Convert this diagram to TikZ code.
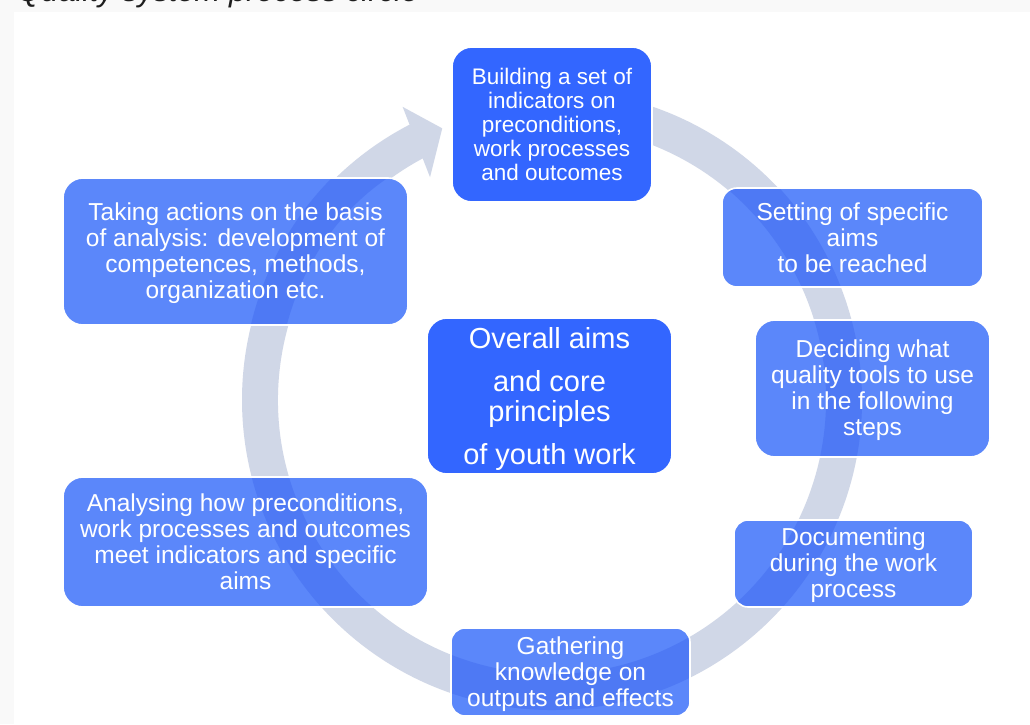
\documentclass[tikz,border=0pt]{standalone}
\usepackage{fontspec}
\setmainfont{Liberation Sans}
\usetikzlibrary{calc}

\definecolor{pagegray}{HTML}{F9F9F9}
\definecolor{ringc}{HTML}{D0D7E7}
\definecolor{stepc}{HTML}{5B87FA}
\definecolor{corec}{HTML}{3366FF}
\definecolor{ringdeep}{HTML}{4E79F4}
\definecolor{titlec}{HTML}{1E1E1E}

% annulus of the process circle (tail hidden under the first step)
\newcommand\qringpath{($(rc)+(96:310pt)$) arc[start angle=96,end angle=-243,radius=310pt]
  -- ($(rc)+(117:274pt)$) arc[start angle=-243,end angle=96,radius=274pt] -- cycle}
% invisible strut that lowers a node's text a little
\newcommand\qlift[1]{\rule{0pt}{#1}}

\tikzset{
  stepbox/.style={draw=white, line width=1.6pt, fill=stepc, text=white,
    rounded corners=20pt, align=center, inner sep=0pt,
    font=\fontsize{24.5pt}{26pt}\selectfont,
    path picture={\fill[ringdeep] \qringpath;}},
  smallstep/.style={stepbox, rounded corners=14pt},
  keybox/.style={draw=white, line width=1.6pt, fill=corec, text=white,
    rounded corners=20pt, align=center, inner sep=0pt},
}

\begin{document}
\begin{tikzpicture}[x=1pt,y=1pt]
\useasboundingbox (0,0) rectangle (1030,724);

% page background with the white drawing area
\fill[pagegray] (0,0) rectangle (1030,724);
\fill[white] (14,0) rectangle (1030,711.5);

% caption above the drawing area
\node[anchor=base west, inner sep=0pt, text=titlec,
      font=\fontsize{31pt}{34pt}\selectfont\itshape] (title) at (17,722) {Quality system process circle};

% circular arrow
\coordinate (rc) at (552,324);
\fill[ringc] \qringpath;
\fill[ringc] ($(rc)+(118.7:254pt)$) -- ($(rc)+(117:329pt)$) -- ($(rc)+(112:293pt)$) -- cycle;

% process steps
\node[keybox, minimum width=200pt, minimum height=155pt,
      font=\fontsize{22.5pt}{24pt}\selectfont] (build) at (552,599.5)
  {Building a set of\\indicators on\\preconditions,\\work processes\\and outcomes};

\node[smallstep, minimum width=261pt, minimum height=99pt, rounded corners=15pt] (aims) at (852.5,486.5)
  {Setting of specific\\aims\\to be reached};

\node[stepbox, minimum width=235pt, minimum height=137pt] (tools) at (872.5,335.5)
  {\qlift{21.5pt}Deciding what\\quality tools to use\\in the following\\steps};

\node[smallstep, minimum width=239pt, minimum height=87pt] (doc) at (853.5,160.5)
  {\qlift{21.5pt}Documenting\\during the work\\process};

\node[smallstep, minimum width=239pt, minimum height=88pt] (gather) at (570.5,52)
  {\qlift{21.5pt}Gathering\\knowledge on\\outputs and effects};

\node[stepbox, minimum width=365pt, minimum height=130pt] (analyse) at (245.5,182)
  {Analysing how preconditions,\\work processes and outcomes\\meet indicators and specific\\aims};

\node[stepbox, minimum width=345pt, minimum height=147pt] (act) at (235.5,472.5)
  {\qlift{21.5pt}Taking actions on the basis\\of analysis: development of\\competences, methods,\\organization etc.};

% centre
\node[keybox, minimum width=245pt, minimum height=156pt,
      font=\fontsize{29pt}{30pt}\selectfont] (core) at (549.5,328)
  {\qlift{27pt}Overall aims\\[13pt]and core\\principles\\[13pt]of youth work};
\end{tikzpicture}
\end{document}
